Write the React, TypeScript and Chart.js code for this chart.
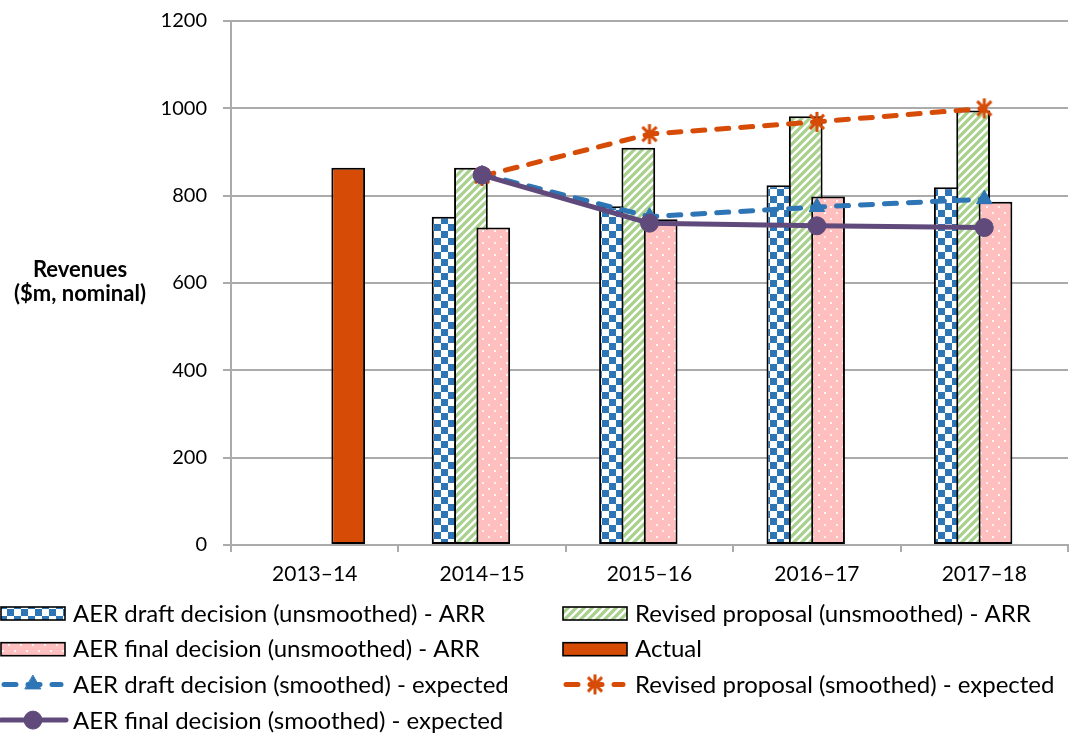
import React, { useEffect, useRef } from 'react';
import { Chart, registerables } from 'chart.js';
import { drawPoint } from 'chart.js/helpers';

Chart.register(...registerables);

// ---------- data ----------
const categories = ['2013–14', '2014–15', '2015–16', '2016–17', '2017–18'];
const draftUnsmoothed = [null, 752, 776, 824, 819];
const revisedUnsmoothed = [null, 864, 910, 982, 995];
const finalUnsmoothed = [null, 727, 746, 798, 786];
const actualRevenue = [864, null, null, null, null];
const draftSmoothed = [null, 849, 752, 774, 792];
const revisedSmoothed = [null, 845, 941, 969, 1000];
const finalSmoothed = [null, 847, 737, 731, 727];
const yMin = 0;
const yMax = 1200;
const yStep = 200;
const seriesLabels = [
  'AER draft decision (unsmoothed) - ARR',
  'Revised proposal (unsmoothed) - ARR',
  'AER final decision (unsmoothed) - ARR',
  'Actual',
  'AER draft decision (smoothed) - expected',
  'Revised proposal (smoothed) - expected',
  'AER final decision (smoothed) - expected',
];
const yTitleLines = ['Revenues', '($m, nominal)'];

// ---------- style ----------
const FONT = 'Lato';
const BLUE = '#2E75B6';
const GREEN = '#A9D18E';
const PINK = '#FFBFBF';
const ORANGE = '#D64B05';
const PURPLE = '#604A7B';
const GRID = '#ababab';

function makeCanvas(w: number, h: number) {
  const c = document.createElement('canvas');
  c.width = w;
  c.height = h;
  return c;
}

function checkerPattern(ctx: CanvasRenderingContext2D) {
  const s = 7;
  const c = makeCanvas(2 * s, 2 * s);
  const g = c.getContext('2d')!;
  g.fillStyle = '#ffffff';
  g.fillRect(0, 0, 2 * s, 2 * s);
  g.fillStyle = BLUE;
  g.fillRect(0, 0, s, s);
  g.fillRect(s, s, s, s);
  return ctx.createPattern(c, 'repeat')!;
}

function stripePattern(ctx: CanvasRenderingContext2D) {
  const s = 8;
  const c = makeCanvas(s, s);
  const g = c.getContext('2d')!;
  g.fillStyle = '#ffffff';
  g.fillRect(0, 0, s, s);
  g.strokeStyle = GREEN;
  g.lineWidth = 3.2;
  g.beginPath();
  g.moveTo(0, s);
  g.lineTo(s, 0);
  g.moveTo(-2, 2);
  g.lineTo(2, -2);
  g.moveTo(s - 2, s + 2);
  g.lineTo(s + 2, s - 2);
  g.stroke();
  return ctx.createPattern(c, 'repeat')!;
}

function dotPattern(ctx: CanvasRenderingContext2D) {
  const s = 12;
  const c = makeCanvas(s, s);
  const g = c.getContext('2d')!;
  g.fillStyle = PINK;
  g.fillRect(0, 0, s, s);
  g.fillStyle = '#ffffff';
  g.beginPath();
  g.arc(3, 3, 1.1, 0, Math.PI * 2);
  g.arc(9, 9, 1.1, 0, Math.PI * 2);
  g.fill();
  return ctx.createPattern(c, 'repeat')!;
}

function asteriskImage(color: string) {
  const s = 24;
  const c = makeCanvas(s, s);
  const g = c.getContext('2d')!;
  g.strokeStyle = color;
  g.lineWidth = 3;
  const cx = s / 2;
  const r = 10;
  g.beginPath();
  g.moveTo(cx, cx - r);
  g.lineTo(cx, cx + r);
  const d = r * Math.SQRT1_2;
  g.moveTo(cx - d, cx - d);
  g.lineTo(cx + d, cx + d);
  g.moveTo(cx + d, cx - d);
  g.lineTo(cx - d, cx + d);
  g.stroke();
  return c;
}

// draw datasets in index order (Excel style: later series on top)
const orderPlugin = {
  id: 'excelOrder',
  beforeDatasetsDraw(chart: any) {
    const n = chart.data.datasets.length;
    for (let i = 0; i < n; i++) {
      const meta = chart.getDatasetMeta(i);
      if (chart.isDatasetVisible(i)) {
        chart.ctx.save();
        meta.controller.draw();
        chart.ctx.restore();
      }
    }
  },
  beforeDatasetDraw() {
    return false;
  },
};

const yTitlePlugin = {
  id: 'yTitle',
  afterDraw(chart: any) {
    const ctx = chart.ctx as CanvasRenderingContext2D;
    const { top, bottom } = chart.chartArea;
    const mid = (top + bottom) / 2;
    ctx.save();
    ctx.fillStyle = '#000';
    ctx.font = `bold 22px ${FONT}`;
    ctx.textAlign = 'center';
    ctx.textBaseline = 'middle';
    ctx.fillText(yTitleLines[0], 80, mid - 13);
    ctx.fillText(yTitleLines[1], 80, mid + 11);
    ctx.restore();
  },
};

const legendPlugin = {
  id: 'excelLegend',
  afterDraw(chart: any) {
    const ctx = chart.ctx as CanvasRenderingContext2D;
    const colX = [1, 563];
    const rowY0 = 613;
    const rowH = 35.7;
    const fontSize = 24;
    chart.data.datasets.forEach((ds: any, i: number) => {
      const col = i % 2;
      const row = Math.floor(i / 2);
      const x = colX[col];
      const y = rowY0 + row * rowH;
      ctx.save();
      if (ds.type === 'bar') {
        ctx.fillStyle = ds.backgroundColor;
        ctx.fillRect(x, y - 6, 64, 13);
        ctx.strokeStyle = '#000';
        ctx.lineWidth = 1.6;
        ctx.strokeRect(x, y - 6, 64, 13);
      } else {
        ctx.strokeStyle = ds.borderColor;
        ctx.lineWidth = ds.borderWidth;
        ctx.lineCap = ds.borderCapStyle || 'butt';
        ctx.setLineDash(ds.borderDash || []);
        ctx.beginPath();
        if (ds.borderDash) {
          ctx.moveTo(x + 3, y);
          ctx.lineTo(x + 60, y);
        } else {
          ctx.moveTo(x, y);
          ctx.lineTo(x + 65, y);
        }
        ctx.stroke();
        ctx.setLineDash([]);
        ctx.fillStyle = ds.pointBackgroundColor;
        ctx.strokeStyle = ds.pointBorderColor;
        ctx.lineWidth = 1;
        drawPoint(ctx, { pointStyle: ds.pointStyle, radius: ds.pointRadius, rotation: 0, borderWidth: 1 } as any, x + 32, y);
      }
      ctx.fillStyle = '#000';
      ctx.font = `${fontSize}px ${FONT}`;
      ctx.textAlign = 'left';
      ctx.textBaseline = 'alphabetic';
      ctx.fillText(ds.label, x + 72, y + 8.6);
      ctx.restore();
    });
  },
};

export default function App() {
  const canvasRef = useRef<HTMLCanvasElement | null>(null);

  useEffect(() => {
    const canvas = canvasRef.current;
    if (!canvas) return;
    const ctx = canvas.getContext('2d')!;
    const checker = checkerPattern(ctx);
    const stripes = stripePattern(ctx);
    const dots = dotPattern(ctx);
    const star = asteriskImage(ORANGE);

    const barCommon = {
      type: 'bar' as const,
      categoryPercentage: 0.534,
      barPercentage: 1.51,
      borderColor: '#000',
      borderWidth: 2,
      borderSkipped: false,
    };
    const lineCommon = {
      type: 'line' as const,
      borderWidth: 5,
      borderCapStyle: 'round',
      fill: false,
      tension: 0,
      spanGaps: false,
      pointBorderWidth: 1,
    };

    const chart = new Chart(ctx, {
      type: 'bar',
      data: {
        labels: categories,
        datasets: [
          { ...barCommon, label: seriesLabels[0], data: draftUnsmoothed, backgroundColor: checker },
          { ...barCommon, label: seriesLabels[1], data: revisedUnsmoothed, backgroundColor: stripes },
          { ...barCommon, label: seriesLabels[2], data: finalUnsmoothed, backgroundColor: dots },
          { ...barCommon, label: seriesLabels[3], data: actualRevenue, backgroundColor: ORANGE },
          {
            ...lineCommon, label: seriesLabels[4], data: draftSmoothed,
            borderColor: BLUE, borderDash: [12, 12],
            pointStyle: 'triangle', pointRadius: 9,
            pointBackgroundColor: BLUE, pointBorderColor: BLUE,
          },
          {
            ...lineCommon, label: seriesLabels[5], data: revisedSmoothed,
            borderColor: ORANGE, borderDash: [12, 12],
            pointStyle: star, pointRadius: 9,
            pointBackgroundColor: ORANGE, pointBorderColor: ORANGE,
          },
          {
            ...lineCommon, label: seriesLabels[6], data: finalSmoothed,
            borderColor: PURPLE,
            pointStyle: 'circle', pointRadius: 9,
            pointBackgroundColor: PURPLE, pointBorderColor: PURPLE,
          },
        ] as any,
      },
      options: {
        animation: false,
        responsive: false,
        events: [],
        layout: { padding: { left: 0, right: 5, top: 21, bottom: 143 } },
        plugins: {
          legend: { display: false },
          tooltip: { enabled: false },
          title: { display: false },
        },
        scales: {
          x: {
            type: 'category',
            offset: true,
            grid: {
              display: true,
              drawOnChartArea: false,
              drawTicks: true,
              tickLength: 7,
              color: GRID,
              lineWidth: 2,
              offset: true,
            },
            border: { display: true, color: GRID, width: 2 },
            ticks: { color: '#000', font: { family: FONT, size: 21 }, padding: 10, maxRotation: 0 },
            afterFit: (s: any) => { s.height = 45; },
          },
          y: {
            min: yMin,
            max: yMax,
            stacked: false,
            ticks: {
              stepSize: yStep,
              color: '#000',
              font: { family: FONT, size: 20 },
              padding: 16,
              callback: (v: any) => String(v),
            },
            grid: { color: GRID, lineWidth: 2, tickLength: 8, drawTicks: true },
            border: { display: true, color: GRID, width: 2 },
            afterFit: (s: any) => { s.width = 231; s.paddingTop = 0; s.paddingBottom = 0; },
          },
        },
      } as any,
      plugins: [orderPlugin, yTitlePlugin, legendPlugin],
    });

    return () => chart.destroy();
  }, []);

  return (
    <div style={{ position: 'fixed', left: 0, top: 0, width: 1078, height: 733, background: '#fff' }}>
      <canvas ref={canvasRef} width={1078} height={733} style={{ display: 'block', width: 1078, height: 733 }} />
    </div>
  );
}
